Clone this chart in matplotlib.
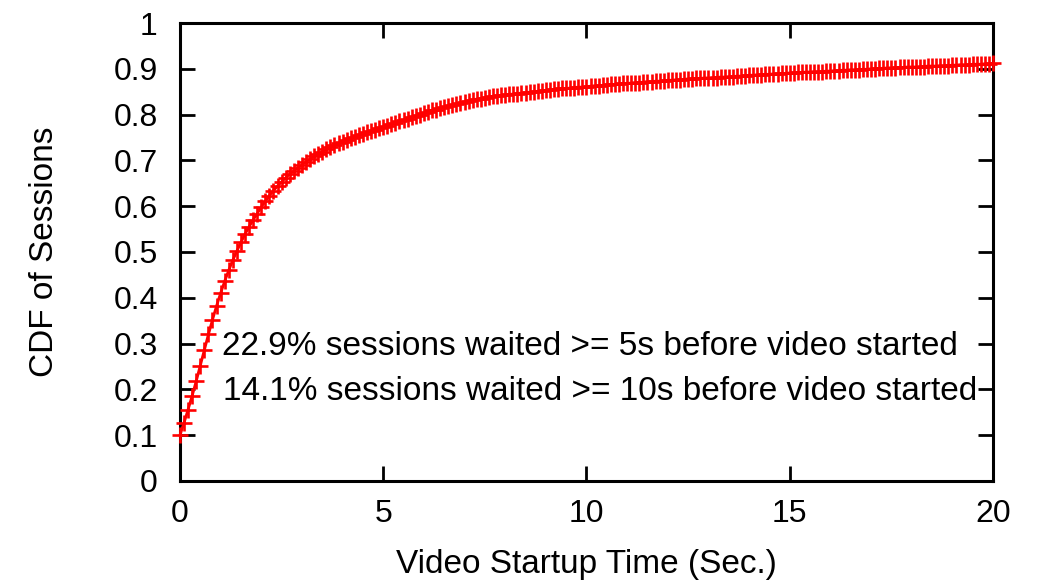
import numpy as np
import matplotlib
matplotlib.use("Agg")
import matplotlib.pyplot as plt

plt.rcParams['font.family'] = ['Liberation Sans', 'DejaVu Sans']

# Startup time grid (seconds), one point every 0.1 s
startup_time = [round(i * 0.1, 1) for i in range(201)]

# CDF of sessions at each 0.1 s step
cdf_0_to_1 = [0.100, 0.127, 0.156, 0.186, 0.218, 0.252, 0.286, 0.320, 0.352, 0.382]
cdf_1_to_2 = [0.410, 0.436, 0.460, 0.482, 0.502, 0.521, 0.539, 0.555, 0.570, 0.584]
cdf_2_to_3 = [0.598, 0.611, 0.623, 0.634, 0.644, 0.653, 0.662, 0.670, 0.677, 0.684]
cdf_3_to_4 = [0.690, 0.697, 0.703, 0.709, 0.714, 0.719, 0.724, 0.729, 0.733, 0.737]
cdf_4_to_5 = [0.741, 0.745, 0.749, 0.752, 0.755, 0.758, 0.761, 0.764, 0.767, 0.770]
cdf_5_to_6 = [0.773, 0.776, 0.779, 0.782, 0.785, 0.788, 0.791, 0.794, 0.797, 0.800]
cdf_6_to_7 = [0.803, 0.806, 0.809, 0.811, 0.814, 0.816, 0.819, 0.821, 0.823, 0.826]
cdf_7_to_8 = [0.828, 0.830, 0.832, 0.834, 0.835, 0.837, 0.838, 0.840, 0.841, 0.842]
cdf_8_to_9 = [0.843, 0.844, 0.845, 0.846, 0.847, 0.848, 0.849, 0.850, 0.851, 0.852]
cdf_9_to_10 = [0.853, 0.854, 0.855, 0.856, 0.857, 0.857, 0.858, 0.859, 0.860, 0.860]
cdf_10_to_11 = [0.861, 0.862, 0.863, 0.863, 0.864, 0.865, 0.866, 0.866, 0.867, 0.868]
cdf_11_to_12 = [0.868, 0.869, 0.870, 0.870, 0.871, 0.872, 0.872, 0.873, 0.873, 0.874]
cdf_12_to_13 = [0.875, 0.875, 0.876, 0.876, 0.877, 0.878, 0.878, 0.879, 0.879, 0.880]
cdf_13_to_14 = [0.880, 0.881, 0.881, 0.882, 0.882, 0.883, 0.883, 0.884, 0.884, 0.885]
cdf_14_to_15 = [0.886, 0.886, 0.887, 0.887, 0.888, 0.888, 0.889, 0.889, 0.890, 0.890]
cdf_15_to_16 = [0.891, 0.891, 0.892, 0.892, 0.893, 0.893, 0.894, 0.894, 0.894, 0.895]
cdf_16_to_17 = [0.895, 0.896, 0.896, 0.897, 0.897, 0.898, 0.898, 0.898, 0.899, 0.899]
cdf_17_to_18 = [0.900, 0.900, 0.901, 0.901, 0.902, 0.902, 0.902, 0.903, 0.903, 0.904]
cdf_18_to_19 = [0.904, 0.904, 0.905, 0.905, 0.906, 0.906, 0.906, 0.907, 0.907, 0.907]
cdf_19_to_20 = [0.908, 0.908, 0.909, 0.909, 0.909, 0.910, 0.910, 0.910, 0.911, 0.911, 0.912]

cdf = (cdf_0_to_1 + cdf_1_to_2 + cdf_2_to_3 + cdf_3_to_4 + cdf_4_to_5 + cdf_5_to_6 +
       cdf_6_to_7 + cdf_7_to_8 + cdf_8_to_9 + cdf_9_to_10 + cdf_10_to_11 + cdf_11_to_12 +
       cdf_12_to_13 + cdf_13_to_14 + cdf_14_to_15 + cdf_15_to_16 + cdf_16_to_17 +
       cdf_17_to_18 + cdf_18_to_19 + cdf_19_to_20)

x_ticks = [0, 5, 10, 15, 20]
y_ticks = [0, 0.1, 0.2, 0.3, 0.4, 0.5, 0.6, 0.7, 0.8, 0.9, 1]
y_tick_labels = ['0', '0.1', '0.2', '0.3', '0.4', '0.5', '0.6', '0.7', '0.8', '0.9', '1']
annotations = ["22.9% sessions waited >= 5s before video started",
               "14.1% sessions waited >= 10s before video started"]

fig = plt.figure(figsize=(10.42, 5.84), dpi=100)
ax = fig.add_axes([0.1727, 0.1764, 0.7803, 0.7842])

ax.plot(startup_time, cdf, color='#ff0000', linewidth=2.0, marker='+',
        markersize=11, markeredgewidth=1.9, clip_on=False, zorder=3)

ax.set_xlim(0, 20)
ax.set_ylim(0, 1)
ax.set_xticks(x_ticks)
ax.set_xticklabels([str(v) for v in x_ticks])
ax.set_yticks(y_ticks)
ax.set_yticklabels(y_tick_labels)

tick_fs = 23
label_fs = 24
ax.tick_params(axis='both', direction='in', length=11, width=2.0,
               top=True, right=True, labelsize=tick_fs)
ax.tick_params(axis='y', pad=16)
ax.tick_params(axis='x', pad=13)
for sp in ax.spines.values():
    sp.set_linewidth(2.2)

ax.set_xlabel('Video Startup Time (Sec.)', fontsize=label_fs)
ax.set_ylabel('CDF of Sessions', fontsize=label_fs)
ax.xaxis.set_label_coords(0.5, -0.148)
ax.yaxis.set_label_coords(-0.148, 0.5)

ax.text(1.03, 0.275, annotations[0], fontsize=label_fs, va='baseline', ha='left')
ax.text(1.06, 0.177, annotations[1], fontsize=label_fs, va='baseline', ha='left')

fig.savefig('out.png', dpi=100)
